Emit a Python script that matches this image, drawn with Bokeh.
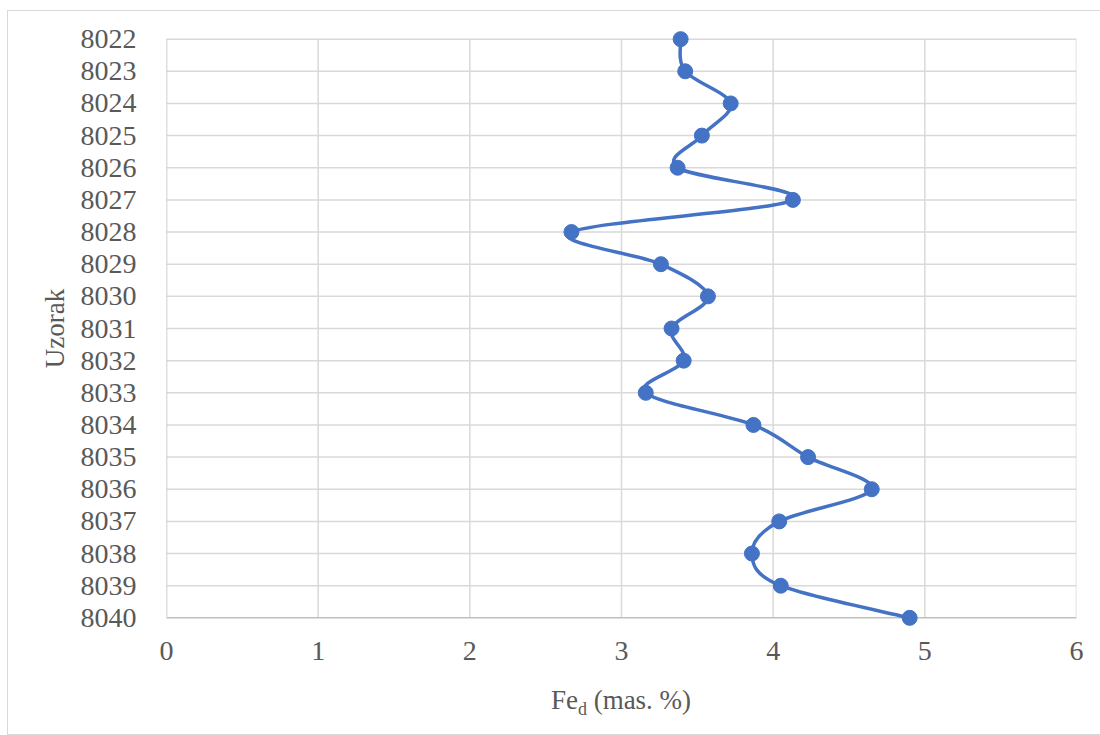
from bokeh.plotting import figure
from bokeh.models import Range1d, FixedTicker, Div
from bokeh.layouts import column
from bokeh.embed import file_html
from bokeh.resources import INLINE

samples = ["8022", "8023", "8024", "8025", "8026", "8027", "8028", "8029", "8030", "8031",
           "8032", "8033", "8034", "8035", "8036", "8037", "8038", "8039", "8040"]
fe_d = [3.39, 3.42, 3.72, 3.53, 3.37, 4.13, 2.67, 3.26, 3.57, 3.33,
        3.41, 3.16, 3.87, 4.23, 4.65, 4.04, 3.86, 4.05, 4.90]
x_ticks = [0, 1, 2, 3, 4, 5, 6]

FONT = "Liberation Serif"
TXT = "#595959"
BLUE = "#4472C4"
GRID = "#d9d9d9"
AXIS = "#bfbfbf"

ys = [int(s) for s in samples]
y_top, y_bot = ys[0], ys[-1]
x_lo, x_hi = x_ticks[0], x_ticks[-1]
pad = 0.3  # room so end markers are not clipped

p = figure(width=1091, height=669, output_backend="svg", toolbar_location=None,
           x_range=Range1d(x_lo, x_hi), y_range=Range1d(y_bot + pad, y_top - pad),
           min_border_left=158, min_border_right=23, min_border_top=18, min_border_bottom=53)
p.outline_line_color = None
p.background_fill_color = "white"
p.xgrid.visible = False
p.ygrid.visible = False

# grid lines limited to the data extent
p.segment(x0=x_ticks[1:], y0=[y_bot] * (len(x_ticks) - 1), x1=x_ticks[1:], y1=[y_top] * (len(x_ticks) - 1),
          line_color=GRID, line_width=1.5)
p.segment(x0=[x_lo] * (len(ys) - 1), y0=ys[:-1], x1=[x_hi] * (len(ys) - 1), y1=ys[:-1],
          line_color=GRID, line_width=1.5)
# axis lines
p.segment(x0=[x_lo, x_lo], y0=[y_bot, y_bot], x1=[x_hi, x_lo], y1=[y_bot, y_top],
          line_color=AXIS, line_width=1.5)

# smooth line as Catmull-Rom style bezier segments
n = len(fe_d)
x0, y0, x1, y1, cx0, cy0, cx1, cy1 = [], [], [], [], [], [], [], []
for i in range(n - 1):
    im1 = max(i - 1, 0)
    ip2 = min(i + 2, n - 1)
    x0.append(fe_d[i]); y0.append(ys[i])
    x1.append(fe_d[i + 1]); y1.append(ys[i + 1])
    cx0.append(fe_d[i] + (fe_d[i + 1] - fe_d[im1]) / 6)
    cy0.append(ys[i] + (ys[i + 1] - ys[im1]) / 6)
    cx1.append(fe_d[i + 1] - (fe_d[ip2] - fe_d[i]) / 6)
    cy1.append(ys[i + 1] - (ys[ip2] - ys[i]) / 6)
p.bezier(x0=x0, y0=y0, x1=x1, y1=y1, cx0=cx0, cy0=cy0, cx1=cx1, cy1=cy1,
         line_color=BLUE, line_width=3.5)
p.scatter(fe_d, ys, size=15, fill_color=BLUE, line_color=BLUE)

# axes
xa = p.xaxis[0]
xa.ticker = FixedTicker(ticks=x_ticks)
xa.axis_line_color = None
xa.major_tick_line_color = None
xa.minor_tick_line_color = None
xa.major_label_text_font = FONT
xa.major_label_text_font_size = "28px"
xa.major_label_text_color = TXT
xa.major_label_standoff = 8

ya = p.yaxis[0]
ya.ticker = FixedTicker(ticks=ys)
ya.major_label_overrides = {y: s for y, s in zip(ys, samples)}
ya.axis_line_color = None
ya.major_tick_line_color = None
ya.minor_tick_line_color = None
ya.major_label_text_font = FONT
ya.major_label_text_font_size = "28px"
ya.major_label_text_color = TXT
ya.major_label_standoff = 24
ya.axis_label = "Uzorak"
ya.axis_label_text_font = FONT
ya.axis_label_text_font_size = "27px"
ya.axis_label_text_font_style = "normal"
ya.axis_label_text_color = TXT
ya.axis_label_standoff = 8

# x axis title with subscript
title_html = ('<div style="width:910px; margin-left:153px; text-align:center; '
              'font-family:\'Liberation Serif\'; font-size:27px; line-height:30px; '
              'color:%s; white-space:nowrap;">Fe<span style="font-size:18px; '
              'position:relative; top:6px;">d</span> (mas. %%)</div>' % TXT)
div = Div(text=title_html, width=1091, height=44)

layout = column(p, div, styles={"border": "1px solid #d9d9d9",
                                "margin-left": "7px", "margin-top": "10px"})

open("out.html", "w").write(file_html(layout, INLINE))
